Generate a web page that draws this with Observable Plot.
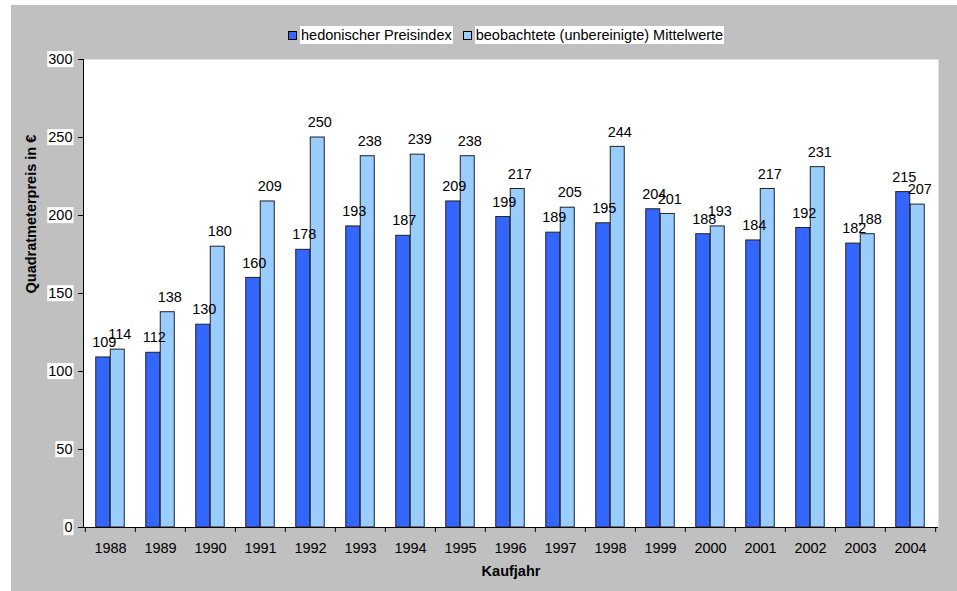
<!DOCTYPE html>
<html>
<head>
<meta charset="utf-8">
<script src="https://cdn.jsdelivr.net/npm/d3@7"></script>
<script src="https://cdn.jsdelivr.net/npm/@observablehq/plot@0.6"></script>
<style>
  html, body { margin: 0; padding: 0; background: #ffffff; }
  #wrap { position: relative; width: 957px; height: 591px; overflow: hidden; font-family: "Liberation Sans", Arial, sans-serif; }
  #bg { position: absolute; left: 11px; top: 5px; width: 946px; height: 586px; background: #c0c0c0; }
  #chart { position: absolute; left: 0; top: 0; }
  #legend { position: absolute; left: 288px; top: 26px; display: flex; align-items: center; font-size: 14.5px; color: #000; }
  .item { display: flex; align-items: center; margin-right: 10px; }
  .sw { width: 7px; height: 7px; border: 1px solid #000; margin-right: 3px; }
  .lt { background: #fff; padding: 1px 1px; line-height: 16px; }
</style>
</head>
<body>
<div id="wrap"><div id="bg"></div><div id="chart"></div><div id="legend"></div></div>
<script>
const years = ["1988","1989","1990","1991","1992","1993","1994","1995","1996","1997","1998","1999","2000","2001","2002","2003","2004"];
const hedonic = [109,112,130,160,178,193,187,209,199,189,195,204,188,184,192,182,215];
const observed = [114,138,180,209,250,238,239,238,217,205,244,201,193,217,231,188,207];
const seriesNames = ["hedonischer Preisindex", "beobachtete (unbereinigte) Mittelwerte"];
const seriesColors = ["#3366ff", "#99ccff"];
const yTicks = [0,50,100,150,200,250,300];
const yTitle = "Quadratmeterpreis in €";
const xTitle = "Kaufjahr";

const W = 957, H = 591, mL = 83, mR = 19, mT = 59, mB = 64;
const step = (W - mL - mR) / years.length;
const barW = 14.5;
const pad = 1 - barW / step;
const fs = 14.5;

const dHed = years.map((y, i) => ({year: y, value: hedonic[i]}));
const dObs = years.map((y, i) => ({year: y, value: observed[i]}));

const plot = Plot.plot({
  width: W, height: H,
  marginLeft: mL, marginRight: mR, marginTop: mT, marginBottom: mB,
  style: {background: "transparent", fontFamily: "'Liberation Sans', Arial, sans-serif", fontSize: fs + "px", color: "#000"},
  x: {domain: years, paddingInner: pad, paddingOuter: pad / 2},
  y: {domain: [0, 300]},
  marks: [
    Plot.frame({fill: "white", stroke: null}),
    Plot.barY(dHed, {x: "year", y: "value", fill: seriesColors[0], stroke: "#222", strokeWidth: 1, dx: -barW / 2}),
    Plot.barY(dObs, {x: "year", y: "value", fill: seriesColors[1], stroke: "#222", strokeWidth: 1, dx: barW / 2}),
    Plot.text(dHed, {x: "year", y: "value", text: d => String(d.value), dx: -barW / 2 + 1, dy: -15, fontSize: fs, fill: "#000"}),
    Plot.text(dObs, {x: "year", y: "value", text: d => String(d.value), dx: barW / 2 + 2, dy: -15, fontSize: fs, fill: "#000"}),
    Plot.frame({anchor: "left", stroke: "#000"}),
    Plot.ruleY([0], {stroke: "#000"}),
    Plot.axisY({ticks: yTicks, tickSize: 5, tickPadding: 6, label: null, fontSize: fs}),
    Plot.axisX({ticks: years, tickSize: 5, tickFormat: () => "", dx: -step / 2, label: null}),
    Plot.axisX({ticks: [years[years.length - 1]], tickSize: 5, tickFormat: () => "", dx: step / 2, label: null}),
    Plot.axisX({ticks: years, tickSize: 0, tickPadding: 15, label: null, fontSize: fs, ariaLabel: "xlabels"}),
    Plot.text([yTitle], {frameAnchor: "left", dx: -52, rotate: -90, fontWeight: "bold", fontSize: fs, ariaLabel: "axis-title"}),
    Plot.text([xTitle], {frameAnchor: "bottom", dy: 48, fontWeight: "bold", fontSize: fs, ariaLabel: "axis-title"})
  ]
});
document.getElementById("chart").appendChild(plot);

// white boxes behind texts sitting on the grey background
const texts = plot.querySelectorAll('g[aria-label="y-axis tick label"] text, g[aria-label="xlabels"] text, g[aria-label="x-axis tick label"] text, g[aria-label="axis-title"] text');
texts.forEach(t => {
  if (!t.textContent) return;
  const b = t.getBBox();
  const r = document.createElementNS("http://www.w3.org/2000/svg", "rect");
  r.setAttribute("x", b.x - 1);
  r.setAttribute("y", b.y);
  r.setAttribute("width", b.width + 2);
  r.setAttribute("height", b.height);
  r.setAttribute("fill", "#fff");
  const tr = t.getAttribute("transform");
  if (tr) r.setAttribute("transform", tr);
  t.parentNode.insertBefore(r, t);
});

// legend
const lg = document.getElementById("legend");
seriesNames.forEach((name, i) => {
  const it = document.createElement("div"); it.className = "item";
  const sw = document.createElement("div"); sw.className = "sw"; sw.style.background = seriesColors[i];
  const lt = document.createElement("span"); lt.className = "lt"; lt.textContent = name;
  it.appendChild(sw); it.appendChild(lt); lg.appendChild(it);
});
</script>
</body>
</html>
